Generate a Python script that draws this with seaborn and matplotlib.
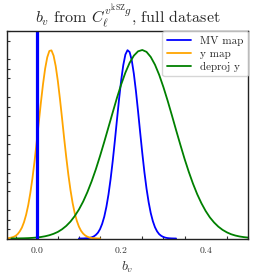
import matplotlib
matplotlib.use("Agg")
import matplotlib.pyplot as plt
import seaborn as sns
from matplotlib.ticker import MultipleLocator, NullFormatter

# posterior of b_v, peak-normalised
x_y = [-0.070, -0.065, -0.060, -0.055, -0.050, -0.045, -0.040, -0.035, -0.030, -0.025,
       -0.020, -0.015, -0.010, -0.005, 0.000, 0.005, 0.010, 0.015, 0.020, 0.025,
       0.030, 0.035, 0.040, 0.045, 0.050, 0.055, 0.060, 0.065, 0.070, 0.075,
       0.080, 0.085, 0.090, 0.095, 0.100, 0.105, 0.110, 0.115, 0.120, 0.125,
       0.130, 0.135, 0.140, 0.145, 0.150]
p_y = [0.0015, 0.0027, 0.005, 0.0085, 0.014, 0.0236, 0.038, 0.058, 0.087, 0.126,
       0.177, 0.242, 0.320, 0.411, 0.512, 0.617, 0.722, 0.819, 0.901, 0.961,
       0.995, 0.998, 0.970, 0.915, 0.837, 0.742, 0.639, 0.532, 0.431, 0.338,
       0.257, 0.189, 0.135, 0.094, 0.063, 0.041, 0.026, 0.016, 0.0095, 0.0055,
       0.003, 0.0017, 0.001, 0.0004, 0.0002]

x_mv = [0.100, 0.105, 0.110, 0.115, 0.120, 0.125, 0.130, 0.135, 0.140, 0.145,
        0.150, 0.155, 0.160, 0.165, 0.170, 0.175, 0.180, 0.185, 0.190, 0.195,
        0.200, 0.205, 0.210, 0.215, 0.220, 0.225, 0.230, 0.235, 0.240, 0.245,
        0.250, 0.255, 0.260, 0.265, 0.270, 0.275, 0.280, 0.285, 0.290, 0.295,
        0.300, 0.305, 0.310, 0.315, 0.320, 0.325, 0.330]
p_mv = [0.0001, 0.0002, 0.0004, 0.0009, 0.0018, 0.0034, 0.0063, 0.011, 0.019, 0.031,
        0.050, 0.078, 0.116, 0.168, 0.234, 0.316, 0.411, 0.517, 0.629, 0.739,
        0.839, 0.920, 0.976, 0.999, 0.989, 0.946, 0.874, 0.781, 0.674, 0.562,
        0.453, 0.352, 0.265, 0.193, 0.135, 0.092, 0.060, 0.038, 0.023, 0.014,
        0.008, 0.0044, 0.0023, 0.0012, 0.0006, 0.0003, 0.0001]

x_dp = [-0.06, -0.05, -0.04, -0.03, -0.02, -0.01, 0.00, 0.01, 0.02, 0.03,
        0.04, 0.05, 0.06, 0.07, 0.08, 0.09, 0.10, 0.11, 0.12, 0.13,
        0.14, 0.15, 0.16, 0.17, 0.18, 0.19, 0.20, 0.21, 0.22, 0.23,
        0.24, 0.25, 0.26, 0.27, 0.28, 0.29, 0.30, 0.31, 0.32, 0.33,
        0.34, 0.35, 0.36, 0.37, 0.38, 0.39, 0.40, 0.41, 0.42, 0.43,
        0.44, 0.45, 0.46, 0.47, 0.48, 0.49, 0.50]
p_dp = [0.0003, 0.0005, 0.0009, 0.0014, 0.0022, 0.0035, 0.0054, 0.0081, 0.012, 0.0175,
        0.025, 0.035, 0.049, 0.067, 0.090, 0.119, 0.154, 0.196, 0.246, 0.303,
        0.367, 0.438, 0.513, 0.591, 0.669, 0.746, 0.817, 0.880, 0.932, 0.970,
        0.993, 1.000, 0.990, 0.963, 0.922, 0.868, 0.803, 0.731, 0.654, 0.575,
        0.498, 0.423, 0.354, 0.291, 0.235, 0.187, 0.146, 0.112, 0.085, 0.063,
        0.046, 0.033, 0.023, 0.016, 0.011, 0.0075, 0.005]

bv_null = 0.0

sns.set_style("ticks")
plt.rcParams["font.family"] = ["serif"]
plt.rcParams["font.serif"] = ["cmr10"]
plt.rcParams["mathtext.fontset"] = "cm"
plt.rcParams["axes.formatter.use_mathtext"] = True
plt.rcParams["axes.unicode_minus"] = False

fig = plt.figure(figsize=(2.54, 2.78), dpi=100)
ax = fig.add_axes([0.028, 0.142, 0.948, 0.746])

sns.lineplot(x=x_mv, y=p_mv, color="blue", lw=1.3, label="MV map", ax=ax)
sns.lineplot(x=x_y, y=p_y, color="orange", lw=1.3, label="y map", ax=ax)
sns.lineplot(x=x_dp, y=p_dp, color="green", lw=1.3, label="deproj y", ax=ax)
ax.axvline(bv_null, color="blue", lw=2.3)

ax.set_xlim(-0.07, 0.5)
ax.set_ylim(0, 1.1)
ax.xaxis.set_major_locator(MultipleLocator(0.2))
ax.xaxis.set_minor_locator(MultipleLocator(0.05))
ax.yaxis.set_major_locator(MultipleLocator(0.2))
ax.yaxis.set_minor_locator(MultipleLocator(0.05))
ax.yaxis.set_major_formatter(NullFormatter())
ax.tick_params(which="major", direction="in", length=0, labelsize=7, pad=5,
               labelcolor="#333333")
ax.tick_params(which="minor", direction="in", length=2.5, width=0.8, color="#333333")
for s in ax.spines.values():
    s.set_linewidth(1.0)
    s.set_color("#222222")

ax.set_xlabel(r"$b_v$", fontsize=10, labelpad=3, color="#333333")
ax.set_title(r"$b_v$ from $C_\ell^{v^{\rm kSZ}g}$, full dataset", fontsize=11.5, pad=4)
ax.legend(loc="upper right", fontsize=8, frameon=True, borderaxespad=0.0,
          handlelength=2.2, labelspacing=0.3, fancybox=True)

fig.savefig("out.png", dpi=100)
